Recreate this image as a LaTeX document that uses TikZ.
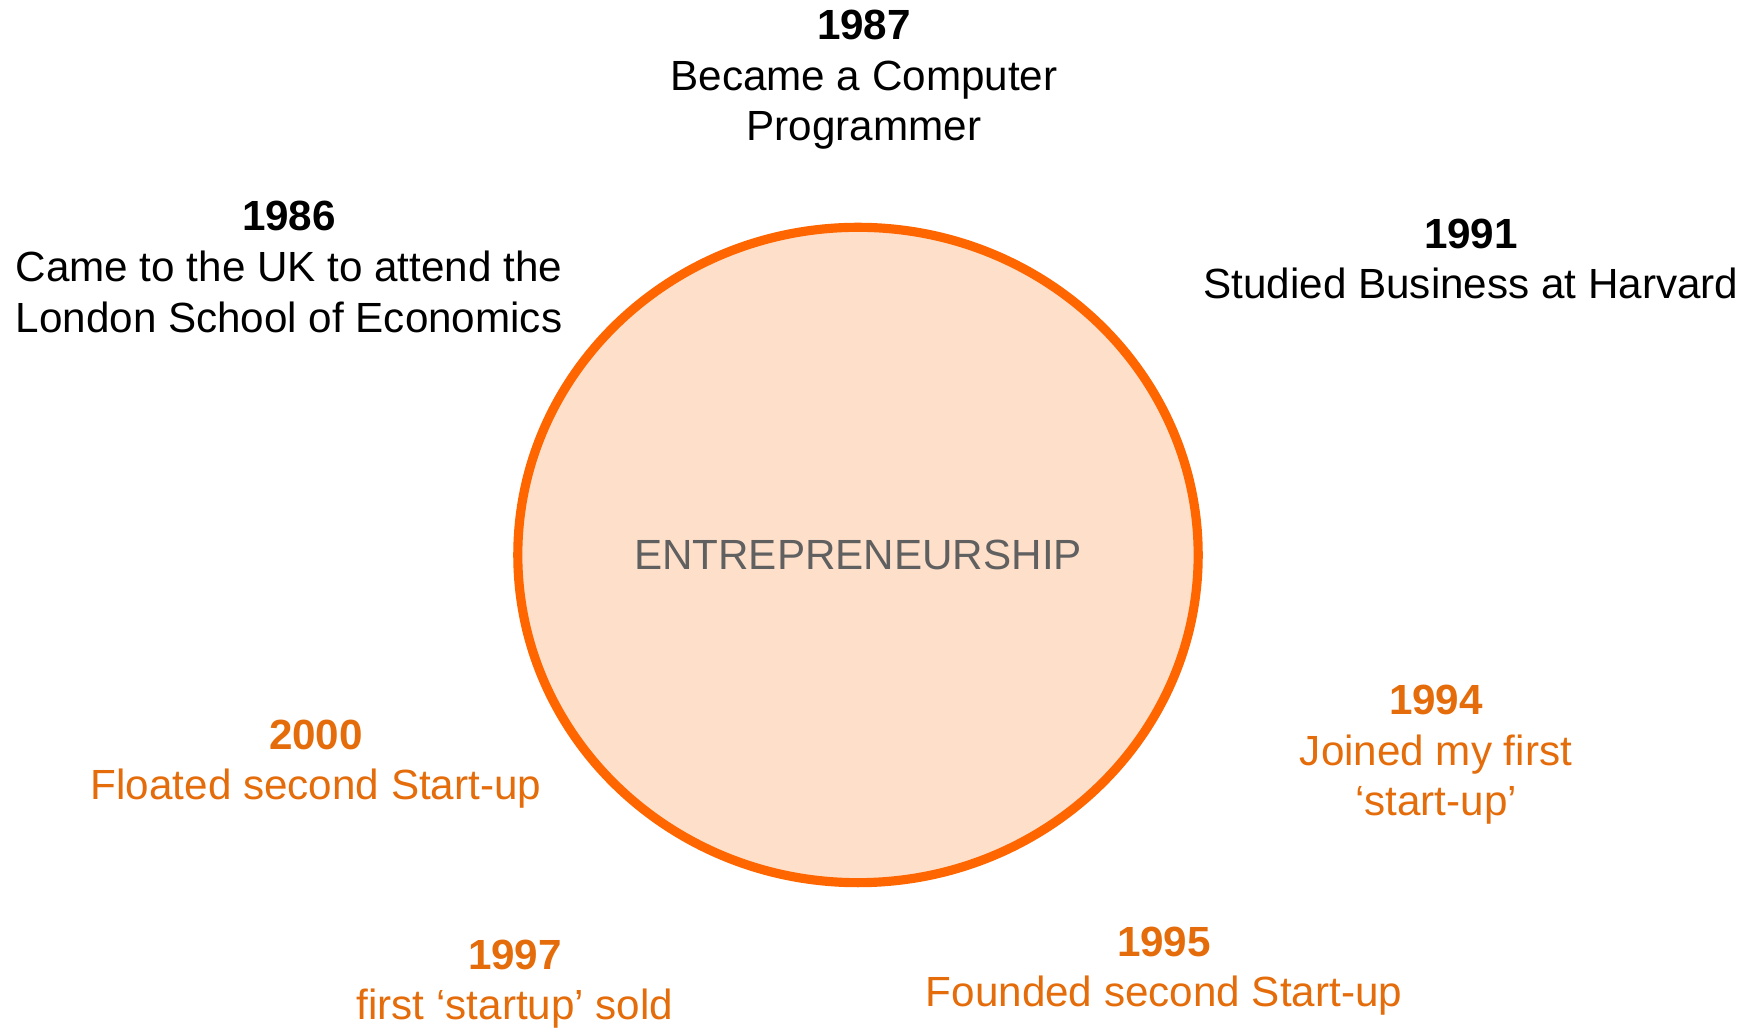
\documentclass[tikz,border=0pt]{standalone}
\usepackage{fontspec}
\setmainfont{Liberation Sans}
\usetikzlibrary{shapes.geometric}
\definecolor{eventorange}{HTML}{E46C0A}
\definecolor{ringorange}{HTML}{FF6600}
\definecolor{ringfill}{HTML}{FDDFCA}
\definecolor{labelgray}{HTML}{606060}
\begin{document}
\begin{tikzpicture}[x=0.01cm,y=-0.01cm,
    event/.style={align=center,font=\fontsize{12}{14.4}\selectfont,inner sep=0pt},
    past/.style={event,text=black},
    venture/.style={event,text=eventorange}]
    \useasboundingbox (0,0) rectangle (1762,1031);

    \node[ellipse,draw=ringorange,line width=2.6pt,fill=ringfill,
          minimum width=6.8cm,minimum height=6.55cm,
          text=labelgray,font=\fontsize{12}{14.4}\selectfont] (core) at (858,555) {ENTREPRENEURSHIP};

    \node[past] (y1986) at (289,267) {\textbf{1986}\\Came to the UK to attend the\\London School of Economics};
    \node[past] (y1987) at (864,80) {\textbf{1987}\\Became a Computer\\Programmer};
    \node[past] (y1991) at (1471,259) {\textbf{1991}\\Studied Business at Harvard};

    \node[venture] (y1994) at (1436,755) {\textbf{1994}\\Joined my first\\‘start-up’};
    \node[venture] (y1995) at (1164,971) {\textbf{1995}\\Founded second Start-up};
    \node[venture] (y1997) at (515,984) {\textbf{1997}\\first ‘startup’ sold};
    \node[venture] (y2000) at (316,764) {\textbf{2000}\\Floated second Start-up};
\end{tikzpicture}
\end{document}
